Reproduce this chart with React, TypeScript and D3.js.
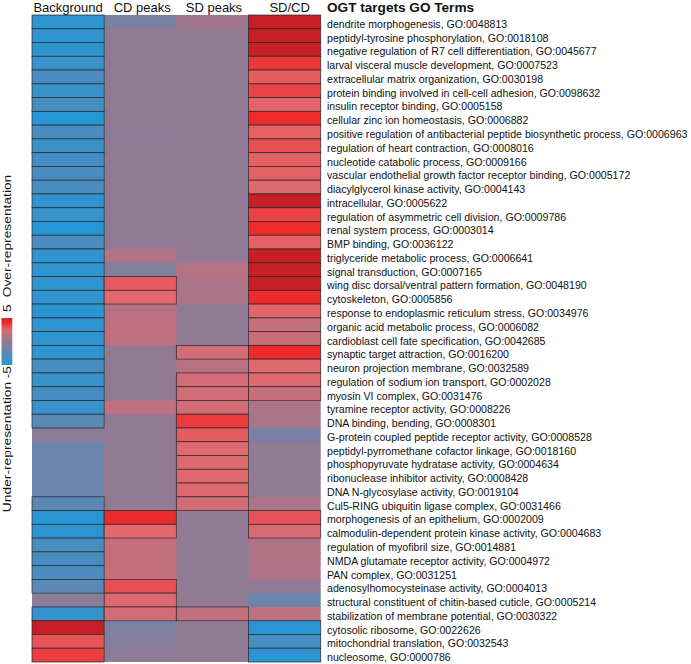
import React from "react";
import * as d3 from "d3";

const columns = ["Background", "CD peaks", "SD peaks", "SD/CD"];
const title = "OGT targets GO Terms";

const terms = [
  "dendrite morphogenesis, GO:0048813",
  "peptidyl-tyrosine phosphorylation, GO:0018108",
  "negative regulation of R7 cell differentiation, GO:0045677",
  "larval visceral muscle development, GO:0007523",
  "extracellular matrix organization, GO:0030198",
  "protein binding involved in cell-cell adhesion, GO:0098632",
  "insulin receptor binding, GO:0005158",
  "cellular zinc ion homeostasis, GO:0006882",
  "positive regulation of antibacterial peptide biosynthetic process, GO:0006963",
  "regulation of heart contraction, GO:0008016",
  "nucleotide catabolic process, GO:0009166",
  "vascular endothelial growth factor receptor binding, GO:0005172",
  "diacylglycerol kinase activity, GO:0004143",
  "intracellular, GO:0005622",
  "regulation of asymmetric cell division, GO:0009786",
  "renal system process, GO:0003014",
  "BMP binding, GO:0036122",
  "triglyceride metabolic process, GO:0006641",
  "signal transduction, GO:0007165",
  "wing disc dorsal/ventral pattern formation, GO:0048190",
  "cytoskeleton, GO:0005856",
  "response to endoplasmic reticulum stress, GO:0034976",
  "organic acid metabolic process, GO:0006082",
  "cardioblast cell fate specification, GO:0042685",
  "synaptic target attraction, GO:0016200",
  "neuron projection membrane, GO:0032589",
  "regulation of sodium ion transport, GO:0002028",
  "myosin VI complex, GO:0031476",
  "tyramine receptor activity, GO:0008226",
  "DNA binding, bending, GO:0008301",
  "G-protein coupled peptide receptor activity, GO:0008528",
  "peptidyl-pyrromethane cofactor linkage, GO:0018160",
  "phosphopyruvate hydratase activity, GO:0004634",
  "ribonuclease inhibitor activity, GO:0008428",
  "DNA N-glycosylase activity, GO:0019104",
  "Cul5-RING ubiquitin ligase complex, GO:0031466",
  "morphogenesis of an epithelium, GO:0002009",
  "calmodulin-dependent protein kinase activity, GO:0004683",
  "regulation of myofibril size, GO:0014881",
  "NMDA glutamate receptor activity, GO:0004972",
  "PAN complex, GO:0031251",
  "adenosylhomocysteinase activity, GO:0004013",
  "structural constituent of chitin-based cuticle, GO:0005214",
  "stabilization of membrane potential, GO:0030322",
  "cytosolic ribosome, GO:0022626",
  "mitochondrial translation, GO:0032543",
  "nucleosome, GO:0000786",
];

// enrichment scores (log scale), one per term
const background = [
  -4.6, -4.6, -4.8, -4.2, -3.4, -4.2, -3.4, -5, -3.4, -4.0,
  -3.6, -3.4, -3.3, -4.6, -4.2, -5, -3.4, -4.6, -4.6, -4.6,
  -4.6, -4.8, -4.6, -4.6, -4.6, -3.6, -4.2, -3.6, -4.2, -2.6,
  -0.3, -1.9, -1.9, -1.9, -1.9, -2.5, -4.8, -4.8, -3.4, -3.4,
  -3.4, -2.6, -0.3, -4.4, 5.5, 3.0, 3.5,
];
const cdPeaks = [
  -1.2, 0, 0, 0, 0, 0, 0, 0, -0.3, 0,
  0, 0, -0.1, 0, 0, 0, 0, 0.9, -0.7, 2.8,
  2.5, 1.2, 1.4, 1.5, 0, 0, 0, 0, 1.4, 0,
  0, 0, 0, 0, 0, 0, 4.1, 2.5, 1.6, 1.6,
  1.6, 3.1, 2.3, 2.0, -1.0, -0.6, -0.3,
];
const sdPeaks = [
  0.5, 0, 0, 0, 0, 0, 0, 0, 0, 0,
  0, 0, 0, 0, 0, 0, 0, 0, 1.1, 0.8,
  0.8, 0, 0, 0, 2.0, 1.2, 2.0, 2.0, 2.0, 3.6,
  2.8, 2.4, 2.4, 2.4, 2.4, 2.0, 0, 0, 0, 0,
  0, 0, 0, 1.5, 0, 0, 0,
];
const sdOverCd = [
  5.5, 5.5, 5.5, 3.7, 2.8, 3.4, 2.6, 4.0, 2.7, 3.1,
  2.7, 2.7, 2.3, 5.5, 3.4, 4.0, 2.7, 5.5, 5.5, 5.5,
  4.0, 2.6, 1.7, 1.7, 4.0, 2.4, 2.4, 1.7, 0.8, 0.7,
  -1.2, 0, 0, 0, 0, 0.8, 3.0, 2.2, 0.9, 0.9,
  0.9, -0.2, -1.7, 1.3, -4.8, -3.5, -4.8,
];

// significance flags (1 = outlined cell)
const backgroundSig = [
  1, 1, 1, 1, 1, 1, 1, 1, 1, 1, 1, 1, 1, 1, 1, 1, 1, 1, 1, 1,
  1, 1, 1, 1, 1, 1, 1, 1, 1, 1, 0, 0, 0, 0, 0, 1, 1, 1, 1, 1,
  1, 1, 0, 1, 1, 1, 1,
];
const cdSig = [
  0, 0, 0, 0, 0, 0, 0, 0, 0, 0, 0, 0, 0, 0, 0, 0, 0, 0, 0, 1,
  1, 0, 0, 0, 0, 0, 0, 0, 0, 0, 0, 0, 0, 0, 0, 0, 1, 1, 0, 0,
  0, 1, 1, 1, 0, 0, 0,
];
const sdSig = [
  0, 0, 0, 0, 0, 0, 0, 0, 0, 0, 0, 0, 0, 0, 0, 0, 0, 0, 0, 0,
  0, 0, 0, 0, 1, 0, 1, 1, 1, 1, 1, 1, 1, 1, 1, 1, 0, 0, 0, 0,
  0, 0, 0, 1, 0, 0, 0,
];
const sdOverCdSig = [
  1, 1, 1, 1, 1, 1, 1, 1, 1, 1, 1, 1, 1, 1, 1, 1, 1, 1, 1, 1,
  1, 1, 1, 1, 1, 1, 1, 1, 0, 0, 0, 0, 0, 0, 0, 0, 1, 1, 0, 0,
  0, 0, 0, 0, 1, 1, 1,
];

const legendTicks = [5, -5];
const legendLabels = ["Over-representation", "Under-representation"];

const W = 691;
const H = 664;
const FONT = "'Liberation Sans', Arial, Helvetica, sans-serif";
const headerDx = [0, 2, 1.5, 5];

export default function App() {
  const valueCols = [background, cdPeaks, sdPeaks, sdOverCd];
  const sigCols = [backgroundSig, cdSig, sdSig, sdOverCdSig];

  const x = d3.scaleBand<string>().domain(columns).range([32, 320.7]);
  const y = d3.scaleBand<string>().domain(terms).range([15, 662]);
  const color = d3
    .scaleLinear<string>()
    .domain([-5, 0, 2.5, 4, 5.5])
    .range(["#2796d5", "#917a94", "#e2686e", "#ee2b2b", "#c81f27"])
    .clamp(true);

  const cb = d3.scaleLinear().domain([-5, 5]).range([365, 318]);
  const gradStops = d3.range(-5, 5.001, 0.5);

  const cells: any[] = [];
  columns.forEach((c, ci) => {
    terms.forEach((t, ri) => {
      cells.push({
        c,
        ci,
        ri,
        t,
        v: valueCols[ci][ri],
        sig: sigCols[ci][ri] === 1,
      });
    });
  });
  const plain = cells.filter((d) => !d.sig);
  const sig = cells.filter((d) => d.sig);

  return (
    <svg
      width={W}
      height={H}
      style={{ position: "absolute", left: 0, top: 0, background: "#fff" }}
      fontFamily={FONT}
    >
      <defs>
        <linearGradient id="cbar" x1="0" y1="1" x2="0" y2="0">
          {gradStops.map((v) => (
            <stop key={v} offset={(v + 5) / 10} stopColor={color(v)} />
          ))}
        </linearGradient>
      </defs>

      {plain.map((d) => (
        <rect
          key={d.c + d.t}
          x={x(d.c)}
          y={y(d.t)}
          width={x.bandwidth() + (d.ci < columns.length - 1 ? 0.8 : 0)}
          height={y.bandwidth() + (d.ri < terms.length - 1 ? 0.8 : 0)}
          fill={color(d.v)}
        />
      ))}
      {sig.map((d) => (
        <rect
          key={"s" + d.c + d.t}
          x={x(d.c)}
          y={y(d.t)}
          width={x.bandwidth()}
          height={y.bandwidth()}
          fill={color(d.v)}
          stroke="#222"
          strokeOpacity={0.85}
          strokeWidth={0.8}
        />
      ))}

      {columns.map((c, i) => (
        <text
          key={c}
          x={(x(c) as number) + x.bandwidth() / 2 + headerDx[i]}
          y={11.5}
          textAnchor="middle"
          fontSize={13}
          fill="#111"
        >
          {c}
        </text>
      ))}

      <text x={327} y={11.5} fontSize={13.6} fontWeight="bold" fill="#111">
        {title}
      </text>

      {terms.map((t) => (
        <text
          key={t}
          x={327}
          y={(y(t) as number) + y.bandwidth() / 2 + 6}
          fontSize={10.6}
          fill="#111"
        >
          {t}
        </text>
      ))}

      <rect x={1.5} y={cb(5)} width={10.8} height={cb(-5) - cb(5)} fill="url(#cbar)" />
      {legendTicks.map((v) => (
        <text
          key={v}
          transform={`translate(10.5,${v > 0 ? cb(v) - 6 : cb(v) + 1}) rotate(-90) scale(1.2,1)`}
          textAnchor={v > 0 ? "start" : "end"}
          fontSize={11.5}
          fill="#111"
        >
          {v}
        </text>
      ))}
      {legendLabels.map((l, i) => (
        <text
          key={l}
          transform={`translate(10.8,${i === 0 ? cb(5) - 82 : cb(-5) + 82}) rotate(-90) scale(1.2,1)`}
          textAnchor="middle"
          fontSize={11.5}
          fill="#111"
        >
          {l}
        </text>
      ))}
    </svg>
  );
}
